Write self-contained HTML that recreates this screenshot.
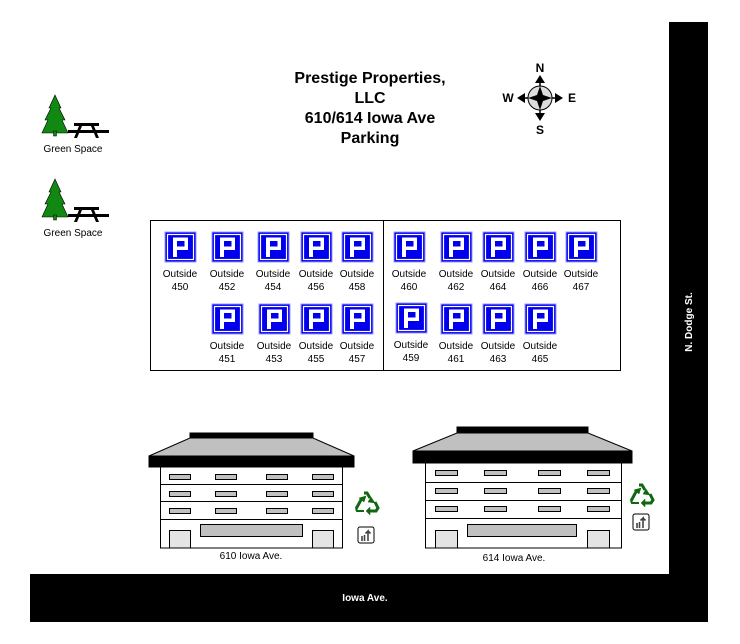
<!DOCTYPE html>
<html><head><meta charset="utf-8"><style>body{margin:0;background:#fff}svg{display:block}text{font-family:"Liberation Sans",Arial,sans-serif}</style></head><body>
<svg width="740" height="644" viewBox="0 0 740 644" xmlns="http://www.w3.org/2000/svg">
<defs>
<g id="p"><rect x="0" y="0" width="31" height="30" fill="#0000ee" stroke="#9999ff" stroke-width="1"/><rect x="2.5" y="2.5" width="26" height="25" fill="none" stroke="#fff" stroke-width="1.2"/><path fill-rule="evenodd" fill="#fff" d="M8 25 V5.5 H23 V18 H12 V25 Z M12 9 V14.5 H19.5 V9 Z"/></g>
<g id="tree"><polygon points="13,0 19,13 17,13 23,25 20,25 26,38 0,38 6,25 3,25 9,13 7,13" fill="#118811" stroke="#000" stroke-width="0.6"/><rect x="11.5" y="36" width="3" height="5" fill="#118811" stroke="#000" stroke-width="0.5"/><rect x="32" y="28" width="25" height="3" fill="#000"/><rect x="26" y="35" width="41" height="3" fill="#000"/><polygon points="37,31 40,31 35,43 32,43" fill="#000"/><polygon points="49,31 52,31 57,43 54,43" fill="#000"/></g>
<g id="rec" fill="none" stroke="#116611" stroke-width="3"><path d="M3 20 L9 9"/><path d="M11 4 H14 L17 9"/><path d="M22 13 L25 19 L23 22 H17"/><path d="M11 22 H4 L3 20" stroke-width="2"/><polygon points="6,9 13,7 11,13" fill="#116611" stroke-width="0.5"/><polygon points="18,8 22,14 15,13" fill="#116611" stroke-width="0.5"/><polygon points="13,22 17,18 17,26" fill="#116611" stroke-width="0.5"/></g>
<g id="trash"><rect x="0" y="0" width="16" height="16" rx="2" fill="#fff" stroke="#000" stroke-width="1"/><path d="M4 14 V9 M6.5 14 V8 M10 14 V4 L7.5 6.5 M10 4 L12.5 6.5" stroke="#444" stroke-width="1.6" fill="none"/></g>
</defs>
<rect x="669" y="22" width="39" height="600" fill="#000"/>
<rect x="30" y="574" width="678" height="48" fill="#000"/>
<text x="365" y="601" font-size="10" font-weight="bold" fill="#fff" text-anchor="middle">Iowa Ave.</text>
<text transform="translate(692,322) rotate(-90)" font-size="10" font-weight="bold" fill="#fff" text-anchor="middle">N. Dodge St.</text>
<g font-size="16" font-weight="bold" text-anchor="middle"><text x="370" y="83">Prestige Properties,</text><text x="370" y="103">LLC</text><text x="370" y="123">610/614 Iowa Ave</text><text x="370" y="143">Parking</text></g>
<circle cx="540" cy="98" r="12" fill="#ddd" stroke="#000" stroke-width="1"/>
<polygon points="540,86 543,95 552,98 543,101 540,110 537,101 528,98 537,95" fill="#000"/>
<path d="M540 86 V80 M540 110 V116 M528 98 H522 M552 98 H558" stroke="#000" stroke-width="1.5"/>
<polygon points="540,75 535,83 545,83" fill="#000"/><polygon points="540,121 535,113 545,113" fill="#000"/>
<polygon points="517,98 525,93 525,103" fill="#000"/><polygon points="563,98 555,93 555,103" fill="#000"/>
<g font-size="12" font-weight="bold" text-anchor="middle"><text x="540" y="72">N</text><text x="540" y="134">S</text><text x="508" y="102">W</text><text x="572" y="102">E</text></g>
<use href="#tree" x="42" y="95"/><text x="73" y="152" font-size="10" text-anchor="middle">Green Space</text>
<use href="#tree" x="42" y="179"/><text x="73" y="236" font-size="10" text-anchor="middle">Green Space</text>
<rect x="150.5" y="220.5" width="470" height="150" fill="none" stroke="#000"/>
<line x1="383.5" y1="220" x2="383.5" y2="371" stroke="#000"/>
<g font-size="10" text-anchor="middle">
<use href="#p" x="165" y="232"/><text x="180" y="277">Outside</text><text x="180" y="290">450</text>
<use href="#p" x="212" y="232"/><text x="227" y="277">Outside</text><text x="227" y="290">452</text>
<use href="#p" x="258" y="232"/><text x="273" y="277">Outside</text><text x="273" y="290">454</text>
<use href="#p" x="301" y="232"/><text x="316" y="277">Outside</text><text x="316" y="290">456</text>
<use href="#p" x="342" y="232"/><text x="357" y="277">Outside</text><text x="357" y="290">458</text>
<use href="#p" x="394" y="232"/><text x="409" y="277">Outside</text><text x="409" y="290">460</text>
<use href="#p" x="441" y="232"/><text x="456" y="277">Outside</text><text x="456" y="290">462</text>
<use href="#p" x="483" y="232"/><text x="498" y="277">Outside</text><text x="498" y="290">464</text>
<use href="#p" x="525" y="232"/><text x="540" y="277">Outside</text><text x="540" y="290">466</text>
<use href="#p" x="566" y="232"/><text x="581" y="277">Outside</text><text x="581" y="290">467</text>
<use href="#p" x="212" y="304"/><text x="227" y="349">Outside</text><text x="227" y="362">451</text>
<use href="#p" x="259" y="304"/><text x="274" y="349">Outside</text><text x="274" y="362">453</text>
<use href="#p" x="301" y="304"/><text x="316" y="349">Outside</text><text x="316" y="362">455</text>
<use href="#p" x="342" y="304"/><text x="357" y="349">Outside</text><text x="357" y="362">457</text>
<use href="#p" x="396" y="303"/><text x="411" y="348">Outside</text><text x="411" y="361">459</text>
<use href="#p" x="441" y="304"/><text x="456" y="349">Outside</text><text x="456" y="362">461</text>
<use href="#p" x="483" y="304"/><text x="498" y="349">Outside</text><text x="498" y="362">463</text>
<use href="#p" x="525" y="304"/><text x="540" y="349">Outside</text><text x="540" y="362">465</text>
</g>
<g stroke="#000" stroke-width="1">
<rect x="190" y="433" width="123" height="5" fill="#000"/>
<polygon points="190,438 313,438 354,456 149,456" fill="#c0c0c0"/>
<rect x="149" y="456" width="205" height="11" fill="#000"/>
<rect x="160.5" y="467" width="182" height="81" fill="#fff"/>
<path d="M160 484.5 H343 M160 501.5 H343 M160 519.5 H343" fill="none"/>
<g fill="#c0c0c0">
<rect x="169.5" y="474.5" width="21" height="5"/><rect x="215.5" y="474.5" width="21" height="5"/><rect x="266.5" y="474.5" width="21" height="5"/><rect x="312.5" y="474.5" width="21" height="5"/>
<rect x="169.5" y="491.5" width="21" height="5"/><rect x="215.5" y="491.5" width="21" height="5"/><rect x="266.5" y="491.5" width="21" height="5"/><rect x="312.5" y="491.5" width="21" height="5"/>
<rect x="169.5" y="508.5" width="21" height="5"/><rect x="215.5" y="508.5" width="21" height="5"/><rect x="266.5" y="508.5" width="21" height="5"/><rect x="312.5" y="508.5" width="21" height="5"/>
<rect x="200.5" y="524.5" width="102" height="12"/>
</g>
<rect x="169.5" y="530.5" width="21" height="17.5" fill="#e4e4e4"/><rect x="312.5" y="530.5" width="21" height="17.5" fill="#e4e4e4"/>
</g>
<text x="251" y="559" font-size="10" text-anchor="middle">610 Iowa Ave.</text>
<use href="#rec" x="353" y="489"/><use href="#trash" x="358" y="527"/>
<g stroke="#000" stroke-width="1">
<rect x="457" y="427" width="131" height="6" fill="#000"/>
<polygon points="457,433 588,433 632,451 413,451" fill="#c0c0c0"/>
<rect x="413" y="451" width="219" height="12" fill="#000"/>
<rect x="425.5" y="463" width="196" height="85" fill="#fff"/>
<path d="M425 482.5 H622 M425 500.5 H622 M425 518.5 H622" fill="none"/>
<g fill="#c0c0c0">
<rect x="435.5" y="470.5" width="22" height="5"/><rect x="484.5" y="470.5" width="22" height="5"/><rect x="538.5" y="470.5" width="22" height="5"/><rect x="587.5" y="470.5" width="22" height="5"/>
<rect x="435.5" y="488.5" width="22" height="5"/><rect x="484.5" y="488.5" width="22" height="5"/><rect x="538.5" y="488.5" width="22" height="5"/><rect x="587.5" y="488.5" width="22" height="5"/>
<rect x="435.5" y="506.5" width="22" height="5"/><rect x="484.5" y="506.5" width="22" height="5"/><rect x="538.5" y="506.5" width="22" height="5"/><rect x="587.5" y="506.5" width="22" height="5"/>
<rect x="467.5" y="524.5" width="109" height="12"/>
</g>
<rect x="435.5" y="530.5" width="22" height="17.5" fill="#e4e4e4"/><rect x="587.5" y="530.5" width="22" height="17.5" fill="#e4e4e4"/>
</g>
<text x="514" y="561" font-size="10" text-anchor="middle">614 Iowa Ave.</text>
<use href="#rec" x="628" y="481"/><use href="#trash" x="633" y="514"/>
</svg>
</body></html>
